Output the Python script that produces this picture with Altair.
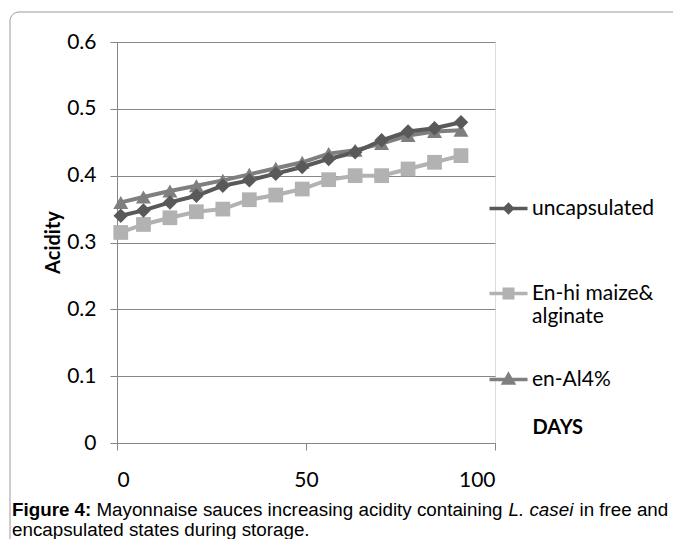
import json
import pandas as pd
import altair as alt

# ---- data ----
days = [1, 7, 14, 21, 28, 35, 42, 49, 56, 63, 70, 77, 84, 91]
uncapsulated = [0.340, 0.348, 0.360, 0.370, 0.385, 0.393, 0.403, 0.413, 0.425, 0.435, 0.453, 0.466, 0.471, 0.480]
en_hi_maize = [0.315, 0.327, 0.337, 0.346, 0.350, 0.364, 0.371, 0.380, 0.394, 0.400, 0.400, 0.410, 0.420, 0.430]
en_al4 = [0.360, 0.368, 0.377, 0.385, 0.393, 0.402, 0.411, 0.420, 0.433, 0.438, 0.448, 0.460, 0.466, 0.468]

series_names = ["uncapsulated", "En-hi maize& alginate", "en-Al4%"]
series_values = [uncapsulated, en_hi_maize, en_al4]
draw_order = ["en-Al4%", "En-hi maize& alginate", "uncapsulated"]

series_colors = ["#595959", "#b2b2b2", "#7f7f7f"]
marker_shapes = ["diamond", "square", "triangle-up"]
marker_sizes = [210, 225, 250]
legend_shapes = [
    "M-3.8,0H3.8M0,-0.75L0.75,0L0,0.75L-0.75,0Z",
    "M-3.8,0H3.8M-0.85,-0.85H0.85V0.85H-0.85Z",
    "M-3.8,0H3.8M0,-0.95L0.95,0.7H-0.95Z",
]
# two-line legend labels (a blank second line keeps every entry the same height)
legend_lines = {
    "uncapsulated": ["uncapsulated", ""],
    "En-hi maize& alginate": ["En-hi maize&", "alginate"],
    "en-Al4%": ["en-Al4%", ""],
}

y_ticks = [0, 0.1, 0.2, 0.3, 0.4, 0.5, 0.6]
x_ticks = [0, 50, 100]

caption_line1 = [("Figure 4:", "bold", "normal"),
                 ("Mayonnaise sauces increasing acidity containing", "normal", "normal"),
                 ("L. casei", "normal", "italic"),
                 ("in free and", "normal", "normal")]
caption_line1_x = [-105, -20.6, 391.6, 462.5]
caption_line2 = "encapsulated states during storage."

rows = []
for name in draw_order:
    vals = series_values[series_names.index(name)]
    for d, v in zip(days, vals):
        rows.append({"day": d, "acidity": v, "series": name})
df = pd.DataFrame(rows)

GREY = "#868686"
FONT = "Lato"

x_enc = alt.X("day:Q", scale=alt.Scale(domain=[0, 100]),
              axis=alt.Axis(values=x_ticks, grid=False, tickSize=7, labelPadding=19,
                            title="DAYS", titleX=415, titleY=-10, titleAlign="left",
                            titleBaseline="alphabetic", titleAngle=0))
y_enc = alt.Y("acidity:Q", scale=alt.Scale(domain=[0, 0.6]),
              axis=alt.Axis(values=y_ticks, format=".1~f", grid=True, tickSize=7,
                            labelPadding=14, title="Acidity", titleX=-58, titleY=200,
                            titleAngle=-90, titleAlign="center", titleBaseline="alphabetic"))

color_scale = alt.Scale(domain=series_names, range=series_colors)

base = alt.Chart(df)

lines = base.mark_line(strokeWidth=4).encode(
    x=x_enc, y=y_enc,
    color=alt.Color("series:N", scale=color_scale, legend=None),
    detail="series:N",
)

points = base.mark_point(filled=True, opacity=1).encode(
    x=x_enc, y=y_enc,
    color=alt.Color("series:N", scale=color_scale, legend=None),
    shape=alt.Shape("series:N", scale=alt.Scale(domain=series_names, range=marker_shapes), legend=None),
    size=alt.Size("series:N", scale=alt.Scale(domain=series_names, range=marker_sizes), legend=None),
)

label_expr = "datum.label"
for k, v in legend_lines.items():
    label_expr = f"datum.label == {json.dumps(k)} ? {json.dumps(v)} : {label_expr}"

legend_kw = dict(
    orient="none", legendX=381, legendY=156, title=None, padding=0,
    labelFont=FONT, labelFontSize=21, labelColor="black", labelLimit=400,
    symbolSize=100, symbolStrokeWidth=3.5, labelOffset=13, rowPadding=40,
    labelExpr=label_expr,
)

legend_layer = base.mark_point(opacity=1, strokeWidth=3.5).encode(
    x=x_enc, y=y_enc,
    fill=alt.Fill("series:N", scale=color_scale, legend=alt.Legend(**legend_kw)),
    stroke=alt.Stroke("series:N", scale=color_scale, legend=alt.Legend(**legend_kw)),
    shape=alt.Shape("series:N", scale=alt.Scale(domain=series_names, range=legend_shapes),
                    legend=alt.Legend(**legend_kw)),
).transform_filter("false")

frame = alt.Chart(pd.DataFrame({"f": [1]})).mark_rect(
    filled=False, stroke="#9a9a9a", strokeWidth=1, cornerRadius=9
).encode(x=alt.value(-107), x2=alt.value(620), y=alt.value(-30), y2=alt.value(620))

caption_layers = []
for (txt, weight, style), xp in zip(caption_line1, caption_line1_x):
    caption_layers.append(
        alt.Chart(pd.DataFrame({"t": [txt]})).mark_text(
            align="left", baseline="alphabetic", font="Liberation Sans", fontSize=18.8,
            fontWeight=weight, fontStyle=style, color="black"
        ).encode(x=alt.value(xp), y=alt.value(474), text="t:N")
    )
caption_layers.append(
    alt.Chart(pd.DataFrame({"t": [caption_line2]})).mark_text(
        align="left", baseline="alphabetic", font="Liberation Sans", fontSize=18.8,
        color="black"
    ).encode(x=alt.value(-105), y=alt.value(494), text="t:N")
)

chart = alt.layer(frame, lines, legend_layer, points, *caption_layers).resolve_scale(
    color="independent", shape="independent", size="independent",
    fill="independent", stroke="independent"
).properties(
    width=378, height=401,
    autosize=alt.AutoSizeParams(type="none"),
    padding={"left": 109, "top": 34, "right": 178, "bottom": 96},
    background="white",
).configure_view(
    stroke="#dcdcdc", strokeWidth=1
).configure_axis(
    domainColor=GREY, tickColor=GREY, gridColor=GREY, domainWidth=1, tickWidth=1, gridWidth=1,
    labelFont=FONT, labelFontSize=21, labelColor="black",
    titleFont=FONT, titleFontSize=20, titleFontWeight="bold", titleColor="black",
)

chart.save("out.html", embed_options={"renderer": "svg", "actions": False})
